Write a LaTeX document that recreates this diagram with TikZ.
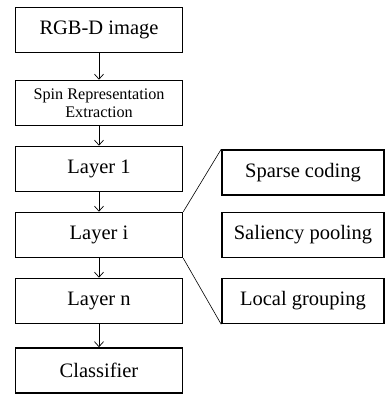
\documentclass[tikz,border=0pt]{standalone}
\usepackage{fontspec}
\setmainfont{Liberation Serif}
\usetikzlibrary{arrows.meta}

\begin{document}
\begin{tikzpicture}[x=1pt,y=-1pt,
    stage/.style={draw,line width=1.6pt,minimum width=167pt,minimum height=45pt,
      inner sep=0pt,align=center,font=\fontsize{20.5}{24}\selectfont},
    part/.style={stage,minimum width=162pt},
    flow/.style={-{Straight Barb[length=5pt,width=9pt]},line width=0.7pt}]
  \useasboundingbox (0,0) rectangle (385,394);
  % main pipeline
  \node[stage] (img) at (99,30) {RGB-D image};
  \node[stage,font=\fontsize{16.2}{18}\selectfont] (spin) at (99,103) {Spin Representation\\Extraction};
  \node[stage] (l1) at (99,169) {Layer 1};
  \node[stage] (li) at (99,235) {Layer i};
  \node[stage] (ln) at (99,301) {Layer n};
  \node[stage] (cls) at (99,370.5) {Classifier};
  % inside one layer
  \node[part] (sparse) at (303,172.5) {Sparse coding};
  \node[part] (sal) at (303,235) {Saliency pooling};
  \node[part] (grp) at (303,301) {Local grouping};
  \draw[flow] (img) -- (spin);
  \draw[flow] (spin) -- (l1);
  \draw[flow] (l1) -- (li);
  \draw[flow] (li) -- (ln);
  \draw[flow] (ln) -- (cls);
  \draw[line width=0.6pt] (li.north east) -- (sparse.north west);
  \draw[line width=0.6pt] (li.south east) -- (grp.south west);
\end{tikzpicture}
\end{document}
